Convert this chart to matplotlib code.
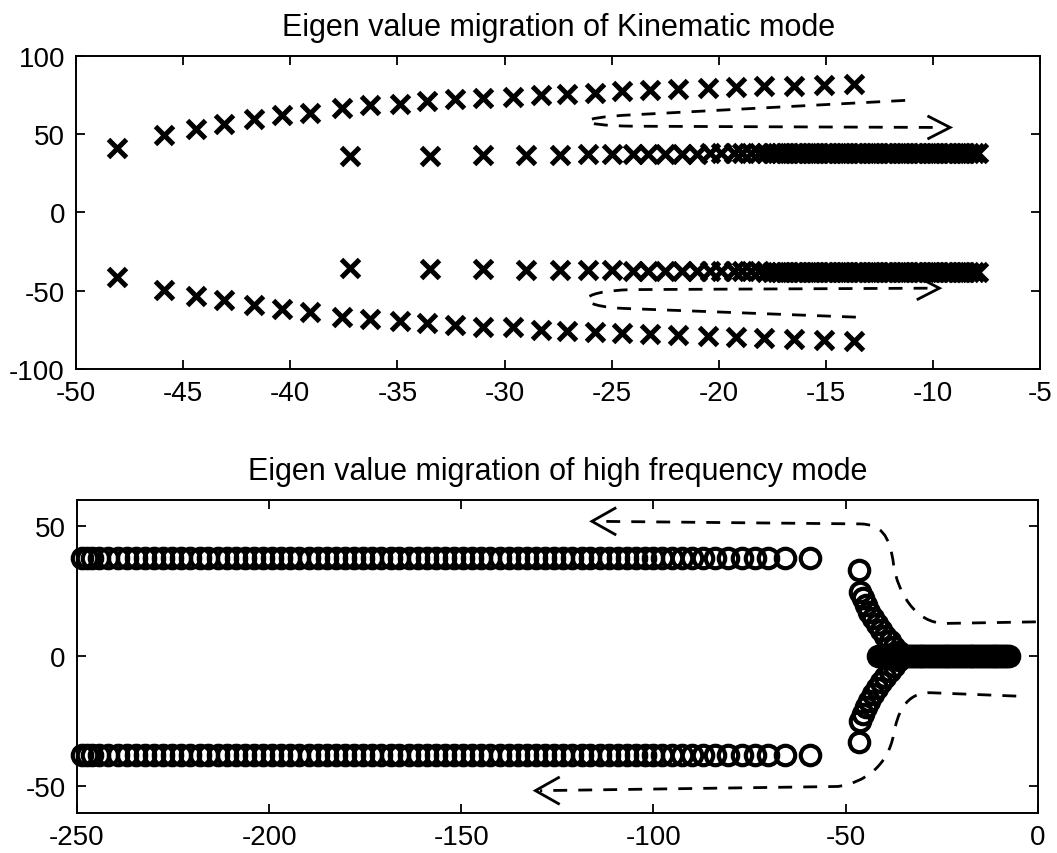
import numpy as np
import matplotlib.pyplot as plt
from matplotlib.path import Path
from matplotlib.patches import PathPatch

plt.rcParams['font.family'] = ['Liberation Sans', 'DejaVu Sans']
plt.rcParams['axes.unicode_minus'] = False

# kinematic mode eigenvalues, upper half plane (lower half is the conjugate)
kin_outer_re = [-48.1, -45.9, -44.4, -43.1, -41.7, -40.4, -39.1, -37.6, -36.3, -34.9,
                -33.6, -32.3, -31.0, -29.6, -28.3, -27.1, -25.8, -24.5, -23.2, -21.9,
                -20.5, -19.2, -17.9, -16.5, -15.1, -13.7]
kin_outer_im = [41.2, 49.5, 53.4, 56.1, 59.3, 61.9, 63.4, 66.6, 68.3, 69.3,
                71.0, 72.1, 73.2, 73.6, 75.1, 75.9, 76.5, 77.3, 78.0, 78.7,
                79.3, 79.9, 80.5, 81.0, 81.5, 82.0]
kin_inner_re = [-37.2, -33.5, -31.0, -29.0, -27.4, -26.1, -25.0, -24.0, -23.3, -22.5,
                -21.7, -21.0, -20.4, -19.9, -19.3, -18.9, -18.5, -18.1, -17.8, -17.5,
                -17.3, -17.1, -16.9, -16.7, -16.5, -16.3, -16.1, -15.9, -15.7, -15.5,
                -15.3, -15.1, -14.9, -14.7, -14.5, -14.3, -14.1, -13.9, -13.7, -13.5,
                -13.3, -13.1, -12.9, -12.7, -12.5, -12.3, -12.1, -11.9, -11.7, -11.5,
                -11.3, -11.1, -10.9, -10.7, -10.5, -10.3, -10.1, -9.9, -9.7, -9.5,
                -9.3, -9.1, -8.9, -8.7, -8.5, -8.3, -8.1, -7.9]
kin_inner_im = [35.9, 36.2, 36.4, 36.6, 36.8, 37.0, 37.1, 37.2, 37.3, 37.4,
                37.5, 37.5, 37.6, 37.6, 37.7, 37.7, 37.7, 37.8] + [37.9] * 50

# high frequency mode eigenvalues, upper half plane
hf_branch_re = [-59.3, -65.8, -70.1, -73.6, -77.0, -80.5, -83.9, -87.0, -90.0, -92.6,
                -95.2, -97.8, -100.0, -102.2, -104.5, -106.9, -109.3, -111.6, -114.0, -116.4,
                -118.7, -121.1, -123.5, -125.8, -128.2, -130.6, -132.9, -135.3, -137.7, -140.0,
                -142.4, -144.8, -147.1, -149.5, -151.9, -154.2, -156.6, -159.0, -161.3, -163.7,
                -166.1, -168.4, -170.8, -173.2, -175.5, -177.9, -180.3, -182.6, -185.0, -187.4,
                -189.7, -192.1, -194.5, -196.8, -199.2, -201.6, -203.9, -206.3, -208.7, -211.0,
                -213.4, -215.8, -218.1, -220.5, -222.9, -225.2, -227.6, -230.0, -232.3, -234.7,
                -237.1, -239.4, -241.8, -244.2, -246.0, -247.5, -248.6]
hf_branch_im = 37.8
hf_arm_re = [-46.6, -46.2, -45.5, -44.7, -43.8, -42.9, -41.9, -40.8, -39.7, -38.5, -37.3, -36.1]
hf_arm_im = [33.0, 24.8, 22.2, 19.6, 17.1, 14.6, 12.3, 10.0, 7.8, 5.7, 3.6, 1.6]
hf_real_re = [-41.5, -41.0, -40.5, -40.0, -39.5, -39.0, -38.5, -38.0, -37.5, -37.0,
              -36.5, -36.0, -35.5, -35.0, -34.5, -34.0, -33.5, -33.0, -32.5, -32.0,
              -31.5, -31.0, -30.5, -30.0, -29.5, -29.0, -28.5, -28.0, -27.5, -27.0,
              -26.5, -26.0, -25.5, -25.0, -24.5, -24.0, -23.5, -23.0, -22.5, -22.0,
              -21.5, -21.0, -20.5, -20.0, -19.5, -19.0, -18.5, -18.0, -17.5, -17.0,
              -16.5, -16.0, -15.5, -15.0, -14.5, -14.0, -13.5, -13.0, -12.5, -12.0,
              -11.5, -11.0, -10.5, -10.0, -9.5, -9.0, -8.5, -8.0, -7.5]

kin_xticks = [-50, -45, -40, -35, -30, -25, -20, -15, -10, -5]
kin_yticks = [-100, -50, 0, 50, 100]
hf_xticks = [-250, -200, -150, -100, -50, 0]
hf_yticks = [-50, 0, 50]

M, L, C = Path.MOVETO, Path.LINETO, Path.CURVE4

# direction sketches (vertices, codes, arrow tip, arrow arm offset)
kin_paths = [
    ([(-11.3, 71.5), (-24.0, 62.3), (-26.8, 60.5), (-26.8, 55.6), (-24.0, 55.0), (-9.6, 54.2)],
     [M, L, C, C, C, L], (-9.2, 54.2), (-1.0, 7.0)),
    ([(-13.6, -67.0), (-24.3, -61.5), (-26.8, -60.3), (-26.8, -50.3), (-24.0, -49.4), (-10.1, -48.5)],
     [M, L, C, C, C, L], (-9.7, -48.5), (-1.0, 7.0)),
]
hf_paths = [
    ([(-0.5, 13.2), (-24.0, 12.6), (-32.0, 12.5), (-36.5, 25.0), (-37.5, 35.0),
      (-38.5, 47.0), (-41.0, 50.5), (-46.0, 50.8), (-115.0, 51.8)],
     [M, L, C, C, C, C, C, C, L], (-116.0, 51.8), (6.0, 5.0)),
    ([(-5.6, -15.3), (-28.0, -14.0), (-34.5, -14.0), (-36.5, -22.0), (-37.5, -30.0),
      (-39.0, -42.0), (-45.0, -48.5), (-52.0, -50.0), (-129.5, -51.6)],
     [M, L, C, C, C, C, C, C, L], (-130.7, -51.6), (6.0, 5.0)),
]


def style_axes(ax, xticks, yticks, title):
    ax.set_xticks(xticks)
    ax.set_yticks(yticks)
    ax.tick_params(direction='in', top=True, right=True, length=6.5, width=1.3,
                   labelsize=20, pad=8)
    for sp in ax.spines.values():
        sp.set_linewidth(1.4)
    ax.set_title(title, fontsize=22, pad=15)


def draw_sketch(ax, verts, codes, tip, arm):
    ax.add_patch(PathPatch(Path(verts, codes), fill=False, ec='black', lw=2.0,
                           ls=(0, (5, 4))))
    dx, dy = arm
    ax.plot([tip[0] + dx, tip[0], tip[0] + dx], [tip[1] + dy, tip[1], tip[1] - dy],
            color='black', lw=2.0, solid_joinstyle='miter')


fig = plt.figure(figsize=(10.57, 8.54), dpi=100)
ax1 = fig.add_axes([0.072, 0.567, 0.912, 0.3665])
ax2 = fig.add_axes([0.0728, 0.0474, 0.909, 0.366])

# kinematic mode
xmark = dict(ls='none', marker='x', color='black', ms=13, mew=3.6, clip_on=False)
for re, im in [(kin_outer_re, kin_outer_im), (kin_inner_re, kin_inner_im)]:
    im = np.array(im)
    ax1.plot(re, im, **xmark)
    ax1.plot(re, -im, **xmark)
for verts, codes, tip, arm in kin_paths:
    draw_sketch(ax1, verts, codes, tip, arm)
ax1.set_xlim(-50, -5)
ax1.set_ylim(-100, 100)
style_axes(ax1, kin_xticks, kin_yticks, 'Eigen value migration of Kinematic mode')

# high frequency mode
omark = dict(ls='none', marker='o', mfc='none', mec='black', ms=14, mew=3.0, clip_on=False)
branch_im = np.full(len(hf_branch_re), hf_branch_im)
arm_im = np.array(hf_arm_im)
ax2.plot(hf_branch_re, branch_im, **omark)
ax2.plot(hf_branch_re, -branch_im, **omark)
ax2.plot(hf_arm_re, arm_im, **omark)
ax2.plot(hf_arm_re, -arm_im, **omark)
ax2.plot(hf_real_re, np.zeros(len(hf_real_re)), **omark)
for verts, codes, tip, arm in hf_paths:
    draw_sketch(ax2, verts, codes, tip, arm)
ax2.set_xlim(-250, 0)
ax2.set_ylim(-60, 60)
style_axes(ax2, hf_xticks, hf_yticks, 'Eigen value migration of high frequency mode')

fig.savefig('out.png', dpi=100)
